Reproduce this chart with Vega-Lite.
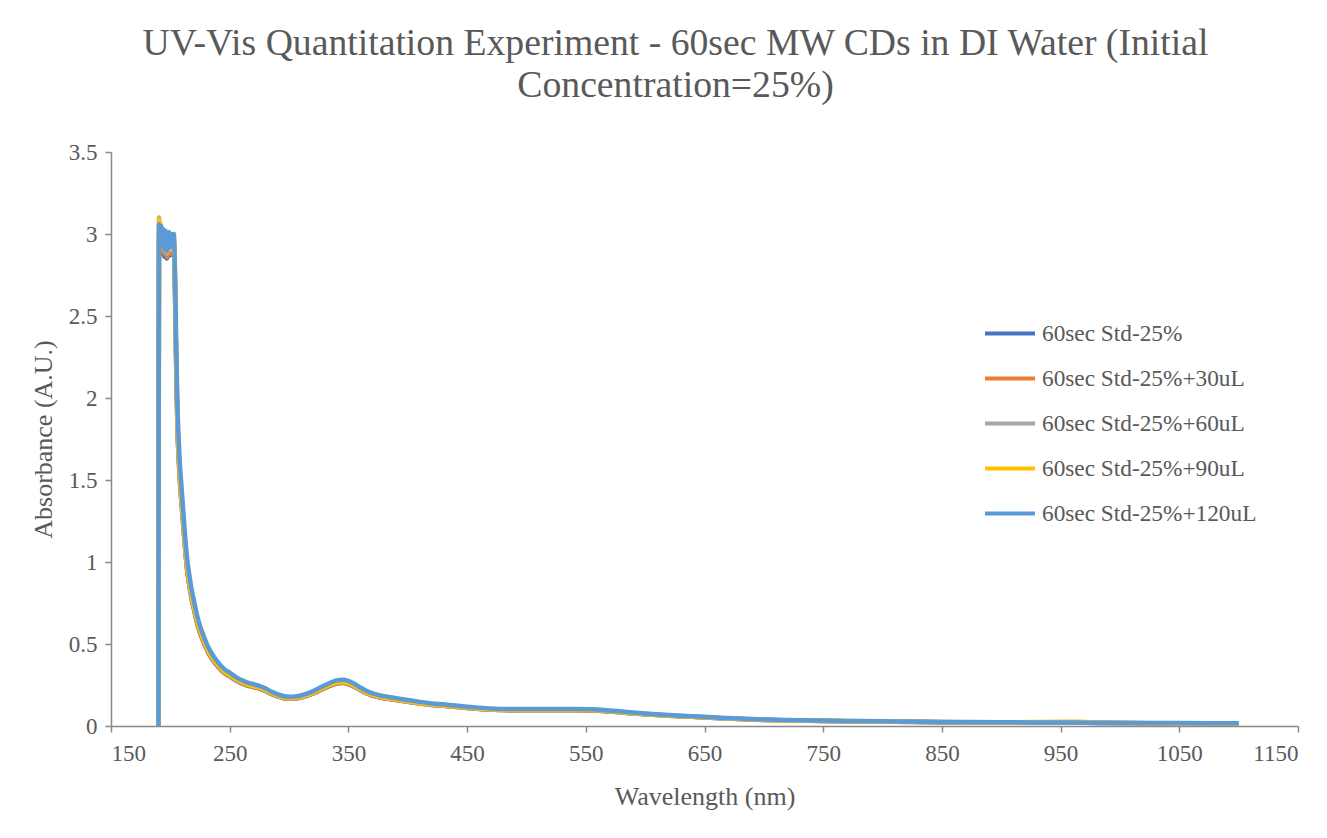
{
  "$schema": "https://vega.github.io/schema/vega-lite/v6.json",
  "width": 1187,
  "height": 574,
  "autosize": {"type": "none"},
  "padding": {"left": 111, "top": 152, "right": 29, "bottom": 112},
  "background": "white",
  "title": {
    "text": ["UV-Vis Quantitation Experiment - 60sec MW CDs in DI Water (Initial", "Concentration=25%)"],
    "font": "Liberation Serif",
    "fontSize": 37.7,
    "fontWeight": "normal",
    "color": "#595959",
    "anchor": "middle",
    "frame": "group",
    "dx": -29,
    "lineHeight": 42,
    "offset": 36
  },
  "config": {
    "view": {"stroke": null},
    "font": "Liberation Serif",
    "text": {"font": "Liberation Serif"},
    "axis": {
      "grid": false,
      "domainColor": "#898989",
      "domainWidth": 1.5,
      "tickColor": "#898989",
      "tickWidth": 1.5,
      "tickSize": 6,
      "labelFont": "Liberation Serif",
      "labelFontSize": 23,
      "labelColor": "#595959",
      "titleFont": "Liberation Serif",
      "titleFontSize": 26,
      "titleFontWeight": "normal",
      "titleColor": "#595959"
    }
  },
  "data": {
    "values": [
      {"x": 190, "60sec Std-25%": 0, "60sec Std-25%+30uL": 0, "60sec Std-25%+60uL": 0, "60sec Std-25%+90uL": 0, "60sec Std-25%+120uL": 0},
      {"x": 190.5, "60sec Std-25%": 3.0, "60sec Std-25%+30uL": 3.02, "60sec Std-25%+60uL": 3.1, "60sec Std-25%+90uL": 3.09, "60sec Std-25%+120uL": 3.06},
      {"x": 191, "60sec Std-25%": 2.9, "60sec Std-25%+30uL": 2.93, "60sec Std-25%+60uL": 2.98, "60sec Std-25%+90uL": 3.03, "60sec Std-25%+120uL": 2.96},
      {"x": 192, "60sec Std-25%": 2.98, "60sec Std-25%+30uL": 2.97, "60sec Std-25%+60uL": 3.04, "60sec Std-25%+90uL": 3.06, "60sec Std-25%+120uL": 3.05},
      {"x": 193, "60sec Std-25%": 2.88, "60sec Std-25%+30uL": 2.9, "60sec Std-25%+60uL": 2.94, "60sec Std-25%+90uL": 2.96, "60sec Std-25%+120uL": 2.93},
      {"x": 194, "60sec Std-25%": 2.95, "60sec Std-25%+30uL": 2.96, "60sec Std-25%+60uL": 3.0, "60sec Std-25%+90uL": 3.02, "60sec Std-25%+120uL": 3.03},
      {"x": 195, "60sec Std-25%": 2.86, "60sec Std-25%+30uL": 2.88, "60sec Std-25%+60uL": 2.9, "60sec Std-25%+90uL": 2.93, "60sec Std-25%+120uL": 2.91},
      {"x": 196, "60sec Std-25%": 2.93, "60sec Std-25%+30uL": 2.95, "60sec Std-25%+60uL": 2.98, "60sec Std-25%+90uL": 2.99, "60sec Std-25%+120uL": 3.02},
      {"x": 197, "60sec Std-25%": 2.85, "60sec Std-25%+30uL": 2.86, "60sec Std-25%+60uL": 2.88, "60sec Std-25%+90uL": 2.95, "60sec Std-25%+120uL": 2.9},
      {"x": 198, "60sec Std-25%": 2.88, "60sec Std-25%+30uL": 2.89, "60sec Std-25%+60uL": 2.91, "60sec Std-25%+90uL": 2.92, "60sec Std-25%+120uL": 2.93},
      {"x": 199, "60sec Std-25%": 2.94, "60sec Std-25%+30uL": 2.95, "60sec Std-25%+60uL": 2.97, "60sec Std-25%+90uL": 2.98, "60sec Std-25%+120uL": 3.01},
      {"x": 200, "60sec Std-25%": 2.87, "60sec Std-25%+30uL": 2.88, "60sec Std-25%+60uL": 2.9, "60sec Std-25%+90uL": 2.91, "60sec Std-25%+120uL": 2.92},
      {"x": 201, "60sec Std-25%": 2.93, "60sec Std-25%+30uL": 2.94, "60sec Std-25%+60uL": 2.96, "60sec Std-25%+90uL": 2.97, "60sec Std-25%+120uL": 3.0},
      {"x": 202, "60sec Std-25%": 2.88, "60sec Std-25%+30uL": 2.89, "60sec Std-25%+60uL": 2.91, "60sec Std-25%+90uL": 2.92, "60sec Std-25%+120uL": 2.94},
      {"x": 203, "60sec Std-25%": 2.92, "60sec Std-25%+30uL": 2.93, "60sec Std-25%+60uL": 2.95, "60sec Std-25%+90uL": 2.96, "60sec Std-25%+120uL": 3.0},
      {"x": 203.5, "60sec Std-25%": 2.82, "60sec Std-25%+30uL": 2.83, "60sec Std-25%+60uL": 2.86, "60sec Std-25%+90uL": 2.87, "60sec Std-25%+120uL": 2.9},
      {"x": 204, "60sec Std-25%": 2.6, "60sec Std-25%+30uL": 2.62, "60sec Std-25%+60uL": 2.66, "60sec Std-25%+90uL": 2.68, "60sec Std-25%+120uL": 2.75},
      {"x": 205, "60sec Std-25%": 2.15, "60sec Std-25%+30uL": 2.17, "60sec Std-25%+60uL": 2.2, "60sec Std-25%+90uL": 2.22, "60sec Std-25%+120uL": 2.3},
      {"x": 206, "60sec Std-25%": 1.81, "60sec Std-25%+30uL": 1.82, "60sec Std-25%+60uL": 1.85, "60sec Std-25%+90uL": 1.86, "60sec Std-25%+120uL": 1.95},
      {"x": 207, "60sec Std-25%": 1.63, "60sec Std-25%+30uL": 1.64, "60sec Std-25%+60uL": 1.66, "60sec Std-25%+90uL": 1.67, "60sec Std-25%+120uL": 1.75},
      {"x": 208, "60sec Std-25%": 1.49, "60sec Std-25%+30uL": 1.5, "60sec Std-25%+60uL": 1.52, "60sec Std-25%+90uL": 1.53, "60sec Std-25%+120uL": 1.6},
      {"x": 209, "60sec Std-25%": 1.395, "60sec Std-25%+30uL": 1.4, "60sec Std-25%+60uL": 1.425, "60sec Std-25%+90uL": 1.43, "60sec Std-25%+120uL": 1.5},
      {"x": 210, "60sec Std-25%": 1.3, "60sec Std-25%+30uL": 1.31, "60sec Std-25%+60uL": 1.33, "60sec Std-25%+90uL": 1.34, "60sec Std-25%+120uL": 1.4},
      {"x": 212, "60sec Std-25%": 1.116, "60sec Std-25%+30uL": 1.122, "60sec Std-25%+60uL": 1.14, "60sec Std-25%+90uL": 1.146, "60sec Std-25%+120uL": 1.2},
      {"x": 214, "60sec Std-25%": 0.958, "60sec Std-25%+30uL": 0.963, "60sec Std-25%+60uL": 0.979, "60sec Std-25%+90uL": 0.984, "60sec Std-25%+120uL": 1.03},
      {"x": 216, "60sec Std-25%": 0.856, "60sec Std-25%+30uL": 0.86, "60sec Std-25%+60uL": 0.874, "60sec Std-25%+90uL": 0.879, "60sec Std-25%+120uL": 0.92},
      {"x": 218, "60sec Std-25%": 0.772, "60sec Std-25%+30uL": 0.776, "60sec Std-25%+60uL": 0.789, "60sec Std-25%+90uL": 0.793, "60sec Std-25%+120uL": 0.83},
      {"x": 220, "60sec Std-25%": 0.707, "60sec Std-25%+30uL": 0.711, "60sec Std-25%+60uL": 0.722, "60sec Std-25%+90uL": 0.726, "60sec Std-25%+120uL": 0.76},
      {"x": 222, "60sec Std-25%": 0.642, "60sec Std-25%+30uL": 0.645, "60sec Std-25%+60uL": 0.656, "60sec Std-25%+90uL": 0.659, "60sec Std-25%+120uL": 0.69},
      {"x": 225, "60sec Std-25%": 0.567, "60sec Std-25%+30uL": 0.57, "60sec Std-25%+60uL": 0.58, "60sec Std-25%+90uL": 0.583, "60sec Std-25%+120uL": 0.61},
      {"x": 228, "60sec Std-25%": 0.512, "60sec Std-25%+30uL": 0.514, "60sec Std-25%+60uL": 0.523, "60sec Std-25%+90uL": 0.525, "60sec Std-25%+120uL": 0.55},
      {"x": 232, "60sec Std-25%": 0.446, "60sec Std-25%+30uL": 0.449, "60sec Std-25%+60uL": 0.456, "60sec Std-25%+90uL": 0.458, "60sec Std-25%+120uL": 0.48},
      {"x": 236, "60sec Std-25%": 0.4, "60sec Std-25%+30uL": 0.402, "60sec Std-25%+60uL": 0.409, "60sec Std-25%+90uL": 0.411, "60sec Std-25%+120uL": 0.43},
      {"x": 240, "60sec Std-25%": 0.363, "60sec Std-25%+30uL": 0.365, "60sec Std-25%+60uL": 0.371, "60sec Std-25%+90uL": 0.372, "60sec Std-25%+120uL": 0.39},
      {"x": 245, "60sec Std-25%": 0.326, "60sec Std-25%+30uL": 0.327, "60sec Std-25%+60uL": 0.333, "60sec Std-25%+90uL": 0.334, "60sec Std-25%+120uL": 0.35},
      {"x": 250, "60sec Std-25%": 0.302, "60sec Std-25%+30uL": 0.304, "60sec Std-25%+60uL": 0.309, "60sec Std-25%+90uL": 0.31, "60sec Std-25%+120uL": 0.325},
      {"x": 255, "60sec Std-25%": 0.279, "60sec Std-25%+30uL": 0.281, "60sec Std-25%+60uL": 0.285, "60sec Std-25%+90uL": 0.287, "60sec Std-25%+120uL": 0.3},
      {"x": 260, "60sec Std-25%": 0.26, "60sec Std-25%+30uL": 0.262, "60sec Std-25%+60uL": 0.266, "60sec Std-25%+90uL": 0.267, "60sec Std-25%+120uL": 0.28},
      {"x": 265, "60sec Std-25%": 0.246, "60sec Std-25%+30uL": 0.248, "60sec Std-25%+60uL": 0.252, "60sec Std-25%+90uL": 0.253, "60sec Std-25%+120uL": 0.265},
      {"x": 270, "60sec Std-25%": 0.237, "60sec Std-25%+30uL": 0.238, "60sec Std-25%+60uL": 0.242, "60sec Std-25%+90uL": 0.244, "60sec Std-25%+120uL": 0.255},
      {"x": 275, "60sec Std-25%": 0.228, "60sec Std-25%+30uL": 0.229, "60sec Std-25%+60uL": 0.233, "60sec Std-25%+90uL": 0.234, "60sec Std-25%+120uL": 0.245},
      {"x": 280, "60sec Std-25%": 0.214, "60sec Std-25%+30uL": 0.215, "60sec Std-25%+60uL": 0.219, "60sec Std-25%+90uL": 0.22, "60sec Std-25%+120uL": 0.23},
      {"x": 285, "60sec Std-25%": 0.195, "60sec Std-25%+30uL": 0.196, "60sec Std-25%+60uL": 0.2, "60sec Std-25%+90uL": 0.201, "60sec Std-25%+120uL": 0.21},
      {"x": 290, "60sec Std-25%": 0.181, "60sec Std-25%+30uL": 0.182, "60sec Std-25%+60uL": 0.185, "60sec Std-25%+90uL": 0.186, "60sec Std-25%+120uL": 0.195},
      {"x": 295, "60sec Std-25%": 0.17, "60sec Std-25%+30uL": 0.171, "60sec Std-25%+60uL": 0.174, "60sec Std-25%+90uL": 0.175, "60sec Std-25%+120uL": 0.183},
      {"x": 300, "60sec Std-25%": 0.166, "60sec Std-25%+30uL": 0.166, "60sec Std-25%+60uL": 0.169, "60sec Std-25%+90uL": 0.17, "60sec Std-25%+120uL": 0.178},
      {"x": 305, "60sec Std-25%": 0.167, "60sec Std-25%+30uL": 0.168, "60sec Std-25%+60uL": 0.171, "60sec Std-25%+90uL": 0.172, "60sec Std-25%+120uL": 0.18},
      {"x": 310, "60sec Std-25%": 0.173, "60sec Std-25%+30uL": 0.174, "60sec Std-25%+60uL": 0.177, "60sec Std-25%+90uL": 0.178, "60sec Std-25%+120uL": 0.186},
      {"x": 315, "60sec Std-25%": 0.183, "60sec Std-25%+30uL": 0.184, "60sec Std-25%+60uL": 0.187, "60sec Std-25%+90uL": 0.188, "60sec Std-25%+120uL": 0.197},
      {"x": 320, "60sec Std-25%": 0.197, "60sec Std-25%+30uL": 0.198, "60sec Std-25%+60uL": 0.201, "60sec Std-25%+90uL": 0.202, "60sec Std-25%+120uL": 0.212},
      {"x": 325, "60sec Std-25%": 0.214, "60sec Std-25%+30uL": 0.215, "60sec Std-25%+60uL": 0.219, "60sec Std-25%+90uL": 0.22, "60sec Std-25%+120uL": 0.23},
      {"x": 330, "60sec Std-25%": 0.231, "60sec Std-25%+30uL": 0.232, "60sec Std-25%+60uL": 0.236, "60sec Std-25%+90uL": 0.237, "60sec Std-25%+120uL": 0.248},
      {"x": 335, "60sec Std-25%": 0.246, "60sec Std-25%+30uL": 0.248, "60sec Std-25%+60uL": 0.252, "60sec Std-25%+90uL": 0.253, "60sec Std-25%+120uL": 0.265},
      {"x": 340, "60sec Std-25%": 0.259, "60sec Std-25%+30uL": 0.26, "60sec Std-25%+60uL": 0.264, "60sec Std-25%+90uL": 0.265, "60sec Std-25%+120uL": 0.278},
      {"x": 345, "60sec Std-25%": 0.262, "60sec Std-25%+30uL": 0.264, "60sec Std-25%+60uL": 0.268, "60sec Std-25%+90uL": 0.269, "60sec Std-25%+120uL": 0.282},
      {"x": 350, "60sec Std-25%": 0.256, "60sec Std-25%+30uL": 0.257, "60sec Std-25%+60uL": 0.261, "60sec Std-25%+90uL": 0.263, "60sec Std-25%+120uL": 0.275},
      {"x": 355, "60sec Std-25%": 0.24, "60sec Std-25%+30uL": 0.241, "60sec Std-25%+60uL": 0.245, "60sec Std-25%+90uL": 0.246, "60sec Std-25%+120uL": 0.258},
      {"x": 360, "60sec Std-25%": 0.219, "60sec Std-25%+30uL": 0.22, "60sec Std-25%+60uL": 0.223, "60sec Std-25%+90uL": 0.224, "60sec Std-25%+120uL": 0.235},
      {"x": 365, "60sec Std-25%": 0.2, "60sec Std-25%+30uL": 0.201, "60sec Std-25%+60uL": 0.204, "60sec Std-25%+90uL": 0.205, "60sec Std-25%+120uL": 0.215},
      {"x": 370, "60sec Std-25%": 0.186, "60sec Std-25%+30uL": 0.187, "60sec Std-25%+60uL": 0.19, "60sec Std-25%+90uL": 0.191, "60sec Std-25%+120uL": 0.2},
      {"x": 375, "60sec Std-25%": 0.177, "60sec Std-25%+30uL": 0.178, "60sec Std-25%+60uL": 0.181, "60sec Std-25%+90uL": 0.181, "60sec Std-25%+120uL": 0.19},
      {"x": 380, "60sec Std-25%": 0.169, "60sec Std-25%+30uL": 0.17, "60sec Std-25%+60uL": 0.173, "60sec Std-25%+90uL": 0.174, "60sec Std-25%+120uL": 0.182},
      {"x": 390, "60sec Std-25%": 0.158, "60sec Std-25%+30uL": 0.159, "60sec Std-25%+60uL": 0.162, "60sec Std-25%+90uL": 0.162, "60sec Std-25%+120uL": 0.17},
      {"x": 400, "60sec Std-25%": 0.147, "60sec Std-25%+30uL": 0.148, "60sec Std-25%+60uL": 0.15, "60sec Std-25%+90uL": 0.151, "60sec Std-25%+120uL": 0.158},
      {"x": 410, "60sec Std-25%": 0.137, "60sec Std-25%+30uL": 0.137, "60sec Std-25%+60uL": 0.14, "60sec Std-25%+90uL": 0.14, "60sec Std-25%+120uL": 0.147},
      {"x": 420, "60sec Std-25%": 0.128, "60sec Std-25%+30uL": 0.129, "60sec Std-25%+60uL": 0.131, "60sec Std-25%+90uL": 0.132, "60sec Std-25%+120uL": 0.138},
      {"x": 430, "60sec Std-25%": 0.123, "60sec Std-25%+30uL": 0.123, "60sec Std-25%+60uL": 0.125, "60sec Std-25%+90uL": 0.126, "60sec Std-25%+120uL": 0.132},
      {"x": 440, "60sec Std-25%": 0.116, "60sec Std-25%+30uL": 0.117, "60sec Std-25%+60uL": 0.119, "60sec Std-25%+90uL": 0.119, "60sec Std-25%+120uL": 0.125},
      {"x": 450, "60sec Std-25%": 0.11, "60sec Std-25%+30uL": 0.11, "60sec Std-25%+60uL": 0.112, "60sec Std-25%+90uL": 0.113, "60sec Std-25%+120uL": 0.118},
      {"x": 460, "60sec Std-25%": 0.104, "60sec Std-25%+30uL": 0.105, "60sec Std-25%+60uL": 0.106, "60sec Std-25%+90uL": 0.107, "60sec Std-25%+120uL": 0.112},
      {"x": 470, "60sec Std-25%": 0.1, "60sec Std-25%+30uL": 0.1, "60sec Std-25%+60uL": 0.102, "60sec Std-25%+90uL": 0.102, "60sec Std-25%+120uL": 0.107},
      {"x": 480, "60sec Std-25%": 0.097, "60sec Std-25%+30uL": 0.097, "60sec Std-25%+60uL": 0.099, "60sec Std-25%+90uL": 0.099, "60sec Std-25%+120uL": 0.104},
      {"x": 500, "60sec Std-25%": 0.096, "60sec Std-25%+30uL": 0.096, "60sec Std-25%+60uL": 0.098, "60sec Std-25%+90uL": 0.098, "60sec Std-25%+120uL": 0.103},
      {"x": 520, "60sec Std-25%": 0.096, "60sec Std-25%+30uL": 0.096, "60sec Std-25%+60uL": 0.098, "60sec Std-25%+90uL": 0.098, "60sec Std-25%+120uL": 0.103},
      {"x": 540, "60sec Std-25%": 0.096, "60sec Std-25%+30uL": 0.096, "60sec Std-25%+60uL": 0.098, "60sec Std-25%+90uL": 0.098, "60sec Std-25%+120uL": 0.103},
      {"x": 555, "60sec Std-25%": 0.095, "60sec Std-25%+30uL": 0.095, "60sec Std-25%+60uL": 0.097, "60sec Std-25%+90uL": 0.097, "60sec Std-25%+120uL": 0.102},
      {"x": 570, "60sec Std-25%": 0.088, "60sec Std-25%+30uL": 0.089, "60sec Std-25%+60uL": 0.09, "60sec Std-25%+90uL": 0.091, "60sec Std-25%+120uL": 0.095},
      {"x": 585, "60sec Std-25%": 0.079, "60sec Std-25%+30uL": 0.079, "60sec Std-25%+60uL": 0.081, "60sec Std-25%+90uL": 0.081, "60sec Std-25%+120uL": 0.085},
      {"x": 600, "60sec Std-25%": 0.071, "60sec Std-25%+30uL": 0.071, "60sec Std-25%+60uL": 0.072, "60sec Std-25%+90uL": 0.073, "60sec Std-25%+120uL": 0.076},
      {"x": 620, "60sec Std-25%": 0.062, "60sec Std-25%+30uL": 0.063, "60sec Std-25%+60uL": 0.064, "60sec Std-25%+90uL": 0.064, "60sec Std-25%+120uL": 0.067},
      {"x": 640, "60sec Std-25%": 0.056, "60sec Std-25%+30uL": 0.056, "60sec Std-25%+60uL": 0.057, "60sec Std-25%+90uL": 0.057, "60sec Std-25%+120uL": 0.06},
      {"x": 660, "60sec Std-25%": 0.048, "60sec Std-25%+30uL": 0.049, "60sec Std-25%+60uL": 0.049, "60sec Std-25%+90uL": 0.05, "60sec Std-25%+120uL": 0.052},
      {"x": 680, "60sec Std-25%": 0.042, "60sec Std-25%+30uL": 0.042, "60sec Std-25%+60uL": 0.043, "60sec Std-25%+90uL": 0.043, "60sec Std-25%+120uL": 0.045},
      {"x": 700, "60sec Std-25%": 0.037, "60sec Std-25%+30uL": 0.037, "60sec Std-25%+60uL": 0.038, "60sec Std-25%+90uL": 0.038, "60sec Std-25%+120uL": 0.04},
      {"x": 720, "60sec Std-25%": 0.033, "60sec Std-25%+30uL": 0.034, "60sec Std-25%+60uL": 0.034, "60sec Std-25%+90uL": 0.034, "60sec Std-25%+120uL": 0.036},
      {"x": 750, "60sec Std-25%": 0.031, "60sec Std-25%+30uL": 0.031, "60sec Std-25%+60uL": 0.031, "60sec Std-25%+90uL": 0.032, "60sec Std-25%+120uL": 0.033},
      {"x": 780, "60sec Std-25%": 0.028, "60sec Std-25%+30uL": 0.028, "60sec Std-25%+60uL": 0.029, "60sec Std-25%+90uL": 0.029, "60sec Std-25%+120uL": 0.03},
      {"x": 810, "60sec Std-25%": 0.026, "60sec Std-25%+30uL": 0.026, "60sec Std-25%+60uL": 0.027, "60sec Std-25%+90uL": 0.027, "60sec Std-25%+120uL": 0.028},
      {"x": 850, "60sec Std-25%": 0.023, "60sec Std-25%+30uL": 0.023, "60sec Std-25%+60uL": 0.024, "60sec Std-25%+90uL": 0.024, "60sec Std-25%+120uL": 0.025},
      {"x": 900, "60sec Std-25%": 0.021, "60sec Std-25%+30uL": 0.022, "60sec Std-25%+60uL": 0.022, "60sec Std-25%+90uL": 0.022, "60sec Std-25%+120uL": 0.023},
      {"x": 950, "60sec Std-25%": 0.02, "60sec Std-25%+30uL": 0.02, "60sec Std-25%+60uL": 0.02, "60sec Std-25%+90uL": 0.026, "60sec Std-25%+120uL": 0.021},
      {"x": 970, "60sec Std-25%": 0.0195, "60sec Std-25%+30uL": 0.0195, "60sec Std-25%+60uL": 0.0198, "60sec Std-25%+90uL": 0.025, "60sec Std-25%+120uL": 0.0205},
      {"x": 1000, "60sec Std-25%": 0.018, "60sec Std-25%+30uL": 0.018, "60sec Std-25%+60uL": 0.018, "60sec Std-25%+90uL": 0.019, "60sec Std-25%+120uL": 0.019},
      {"x": 1050, "60sec Std-25%": 0.017, "60sec Std-25%+30uL": 0.017, "60sec Std-25%+60uL": 0.017, "60sec Std-25%+90uL": 0.017, "60sec Std-25%+120uL": 0.018},
      {"x": 1100, "60sec Std-25%": 0.016, "60sec Std-25%+30uL": 0.016, "60sec Std-25%+60uL": 0.016, "60sec Std-25%+90uL": 0.016, "60sec Std-25%+120uL": 0.017}
    ]
  },
  "transform": [
    {"fold": ["60sec Std-25%", "60sec Std-25%+30uL", "60sec Std-25%+60uL", "60sec Std-25%+90uL", "60sec Std-25%+120uL"], "as": ["series", "absorbance"]}
  ],
  "mark": {"type": "line", "strokeWidth": 4.5, "interpolate": "monotone"},
  "encoding": {
    "x": {
      "field": "x",
      "type": "quantitative",
      "title": "Wavelength (nm)",
      "scale": {"domain": [150, 1150], "nice": false, "zero": false},
      "axis": {"values": [150, 250, 350, 450, 550, 650, 750, 850, 950, 1050, 1150], "format": "d", "labelPadding": 10, "titlePadding": 18, "labelFont": "Liberation Serif", "titleFont": "Liberation Serif"}
    },
    "y": {
      "field": "absorbance",
      "type": "quantitative",
      "title": "Absorbance (A.U.)",
      "scale": {"domain": [0, 3.5], "nice": false},
      "axis": {"values": [0, 0.5, 1, 1.5, 2, 2.5, 3, 3.5], "format": "~g", "labelPadding": 8, "titlePadding": 12, "labelFont": "Liberation Serif", "titleFont": "Liberation Serif"}
    },
    "color": {
      "field": "series",
      "type": "nominal",
      "scale": {
        "domain": ["60sec Std-25%", "60sec Std-25%+30uL", "60sec Std-25%+60uL", "60sec Std-25%+90uL", "60sec Std-25%+120uL"],
        "range": ["#4472C4", "#ED7D31", "#A5A5A5", "#FFC000", "#5B9BD5"]
      },
      "legend": {
        "title": null,
        "orient": "none",
        "legendX": 872,
        "legendY": 159,
        "symbolType": "stroke",
        "symbolSize": 2500,
        "symbolStrokeWidth": 4,
        "clipHeight": 45,
        "rowPadding": 0,
        "labelOffset": 5,
        "labelFont": "Liberation Serif",
        "labelFontSize": 23.3,
        "labelColor": "#595959",
        "labelLimit": 400
      }
    }
  }
}
